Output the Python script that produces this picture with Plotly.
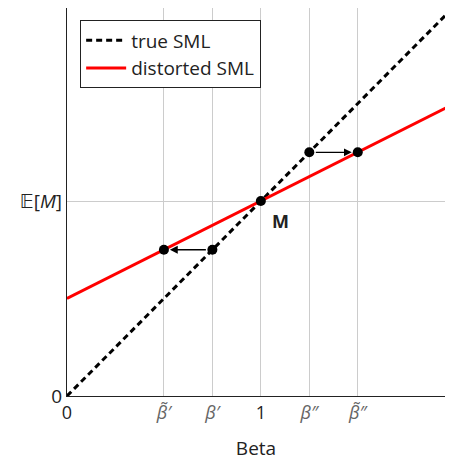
import plotly.graph_objects as go

# Data
sml_beta = [0, 2]
true_sml = [0, 2]
distorted_sml = [0.5, 1.5]

point_beta = [0.5, 0.75, 1.0, 1.25, 1.5]
point_ret = [0.75, 0.75, 1.0, 1.25, 1.25]

arrows = [  # (from_beta, from_ret, to_beta, to_ret)
    (0.75, 0.75, 0.5, 0.75),
    (1.25, 1.25, 1.5, 1.25),
]

x_tickvals = [0, 0.5, 0.75, 1, 1.25, 1.5]
x_ticktext = ["0",
              "<span style='color:#666'><i>β̃′</i></span>",
              "<span style='color:#666'><i>β′</i></span>",
              "1",
              "<span style='color:#666'><i>β″</i></span>",
              "<span style='color:#666'><i>β̃″</i></span>"]
y_tickvals = [0, 1]
y_ticktext = ["0", "𝔼[<i>M</i>]"]

FONT = "Open Sans, DejaVu Sans, sans-serif"

fig = go.Figure()
fig.add_trace(go.Scatter(x=sml_beta, y=true_sml, mode="lines", name="true SML",
                         line=dict(color="black", width=3, dash="6px,4px")))
fig.add_trace(go.Scatter(x=sml_beta, y=distorted_sml, mode="lines", name="distorted SML",
                         line=dict(color="red", width=3)))
fig.add_trace(go.Scatter(x=point_beta, y=point_ret, mode="markers", showlegend=False,
                         marker=dict(color="black", size=10)))

for fx, fy, tx, ty in arrows:
    fig.add_annotation(x=tx, y=ty, ax=fx, ay=fy, xref="x", yref="y", axref="x", ayref="y",
                       showarrow=True, arrowhead=2, arrowsize=1.2, arrowwidth=1.3,
                       arrowcolor="black", standoff=6, startstandoff=5, text="")

fig.add_annotation(x=1.1, y=0.9, xref="x", yref="y", text="<b>M</b>", showarrow=False,
                   font=dict(size=18, color="#222", family=FONT))

fig.update_layout(
    width=437, height=453,
    margin=dict(l=59, r=0, t=0, b=65, autoexpand=False),
    plot_bgcolor="white", paper_bgcolor="white",
    font=dict(family=FONT, size=18, color="#222"),
    showlegend=True,
    legend=dict(x=0.034, y=0.969, xanchor="left", yanchor="top",
                bordercolor="#222", borderwidth=1.3, bgcolor="white",
                font=dict(size=19), itemwidth=40, tracegroupgap=0),
    xaxis=dict(range=[0, 1.95], tickvals=x_tickvals, ticktext=x_ticktext,
               showgrid=True, gridcolor="#cccccc", gridwidth=1,
               showline=True, linecolor="#222", linewidth=1.3, mirror=True,
               zeroline=False, ticks="", ticklen=0,
               title=dict(text="Beta", font=dict(size=19), standoff=19)),
    yaxis=dict(range=[0, 1.99], tickvals=y_tickvals, ticktext=y_ticktext,
               showgrid=True, gridcolor="#cccccc", gridwidth=1,
               showline=True, linecolor="#222", linewidth=1.3,
               zeroline=False, ticks="", ticklen=0, tickfont=dict(size=19)),
)

fig.write_html("out.html")
